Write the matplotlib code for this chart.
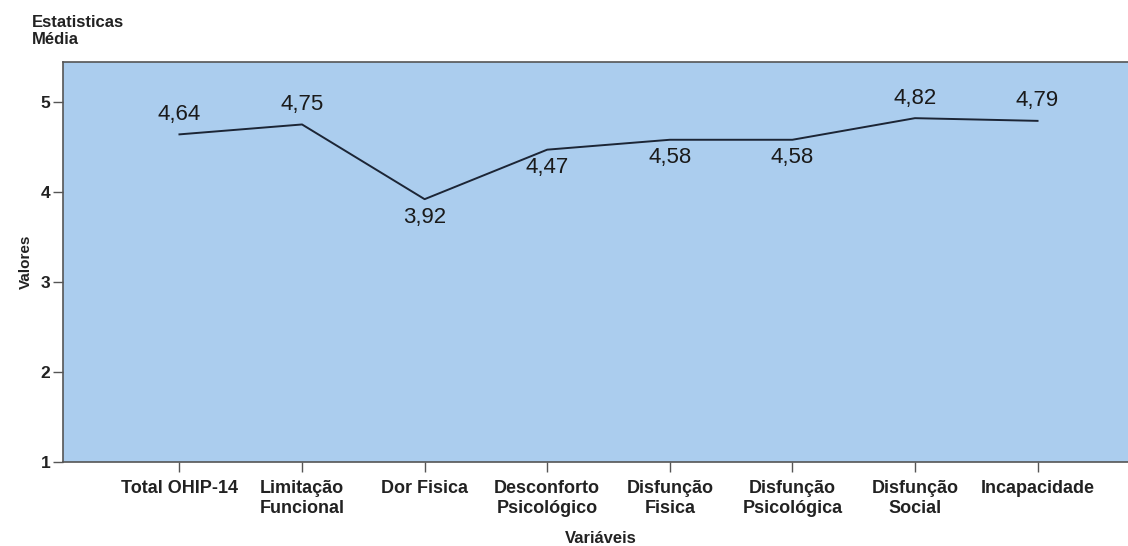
import matplotlib
matplotlib.use('Agg')
import matplotlib.pyplot as plt

# dados
categorias = ['Total OHIP-14', 'Limitação\nFuncional', 'Dor Fisica', 'Desconforto\nPsicológico',
              'Disfunção\nFisica', 'Disfunção\nPsicológica', 'Disfunção\nSocial', 'Incapacidade']
medias = [4.64, 4.75, 3.92, 4.47, 4.58, 4.58, 4.82, 4.79]
acima = [True, True, False, False, False, False, True, True]
yticks = [1, 2, 3, 4, 5]

plt.rcParams['font.family'] = ['Liberation Sans', 'DejaVu Sans']

fig = plt.figure(figsize=(11.28, 5.46), dpi=100)
ax = fig.add_axes([63 / 1128, 84 / 546, 1 - 63 / 1128 + 0.01, 400 / 546])
ax.set_facecolor('#abcdee')

x = list(range(len(categorias)))
ax.plot(x, medias, color='#1c2535', lw=1.4)
for xi, v, up in zip(x, medias, acima):
    off = 20 if up else -18
    ax.annotate(f'{v:.2f}'.replace('.', ','), (xi, v), xytext=(0, off),
                textcoords='offset pixels',
                ha='center', va='center', fontsize=16, color='#1a1a1a')

ax.set_xlim(-0.95, 7.83)
ax.set_ylim(1, 5.444)
ax.set_xticks(x)
ax.set_xticklabels(categorias, fontsize=13, fontweight='bold', color='#222222', linespacing=1.2)
ax.set_yticks(yticks)
ax.set_yticklabels([str(t) for t in yticks], fontsize=12.5, fontweight='bold', color='#222222')
ax.tick_params(axis='both', length=7, color='#555555', width=1)
ax.tick_params(axis='x', pad=6)
ax.tick_params(axis='y', pad=2)

for s in ['left', 'bottom', 'top']:
    ax.spines[s].set_color('#555555')
    ax.spines[s].set_linewidth(1.2)
ax.spines['right'].set_visible(False)

ax.set_xlabel('Variáveis', fontsize=12, fontweight='bold', color='#222222', labelpad=10)
ax.set_ylabel('Valores', fontsize=11, fontweight='bold', color='#222222', labelpad=6)

fig.text(32 / 1128, 1 - 31 / 546, 'Estatisticas\nMédia', fontsize=12, fontweight='bold',
         color='#222222', va='center', ha='left', linespacing=1.15)

fig.savefig('out.png', dpi=100)
